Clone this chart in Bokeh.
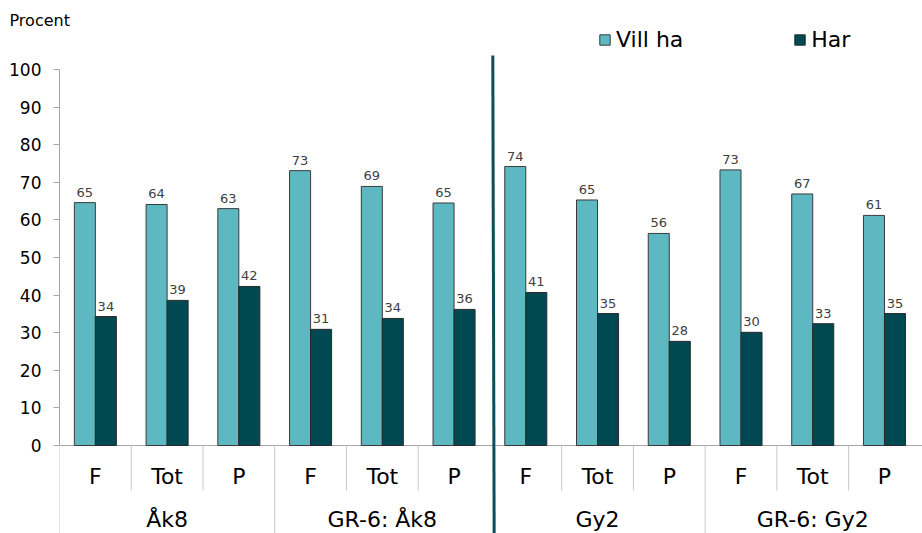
from bokeh.plotting import figure
from bokeh.models import Range1d, ColumnDataSource, Legend, LegendItem, FixedTicker
from bokeh.core.properties import value
from bokeh.embed import file_html
from bokeh.resources import INLINE

groups = ["Åk8", "GR-6: Åk8", "Gy2", "GR-6: Gy2"]
subcats = ["F", "Tot", "P"]
vill_ha = [64.6, 64.1, 63.0, 73.1, 68.9, 64.5, 74.2, 65.3, 56.4, 73.3, 66.9, 61.2]
har = [34.3, 38.6, 42.3, 30.9, 33.8, 36.2, 40.7, 35.1, 27.7, 30.1, 32.4, 35.1]
vill_ha_labels = ["65", "64", "63", "73", "69", "65", "74", "65", "56", "73", "67", "61"]
har_labels = ["34", "39", "42", "31", "34", "36", "41", "35", "28", "30", "33", "35"]
y_ticks = [0, 10, 20, 30, 40, 50, 60, 70, 80, 90, 100]

C_VILL = "#5DB8C1"
C_HAR = "#004852"
FONT = "DejaVu Sans"

n = len(vill_ha)
bar_w = 0.293
x_end = 12.03
centers = [i + 0.5 for i in range(n)]
src = ColumnDataSource(dict(
    xv=[c - bar_w / 2 for c in centers],
    xh=[c + bar_w / 2 for c in centers],
    vill=vill_ha, har=har, lv=vill_ha_labels, lh=har_labels,
))

p = figure(width=922, height=533, output_backend="svg", toolbar_location=None,
           x_range=Range1d(0, x_end), y_range=Range1d(-23.40, 111.97),
           min_border_left=59, min_border_right=0, min_border_top=24, min_border_bottom=0)
p.xaxis.visible = False
p.xgrid.visible = False
p.ygrid.visible = False
p.outline_line_color = None

p.title.text = "Procent"
p.title.align = "left"
p.title.offset = -50
p.title.standoff = -11
p.title.text_font = FONT
p.title.text_font_size = "16px"
p.title.text_font_style = "normal"
p.title.text_color = "#000000"

yax = p.yaxis[0]
yax.bounds = (0, 100)
yax.ticker = FixedTicker(ticks=y_ticks)
yax.minor_tick_line_color = None
yax.major_tick_in = 0
yax.major_tick_out = 6
yax.major_label_standoff = 12
yax.axis_line_color = "#A6A6A6"
yax.major_tick_line_color = "#A6A6A6"
yax.major_label_text_font = FONT
yax.major_label_text_font_size = "17px"
yax.major_label_text_color = "#000000"

# baseline
p.segment(x0=[0], y0=[0], x1=[x_end], y1=[0], line_color="#A6A6A6", line_width=1)

r1 = p.vbar(x="xv", top="vill", width=bar_w, bottom=0, source=src,
            fill_color=C_VILL, line_color="#3A3A3A", line_width=1)
r2 = p.vbar(x="xh", top="har", width=bar_w, bottom=0, source=src,
            fill_color=C_HAR, line_color="#2A2A2A", line_width=1)

p.text(x="xv", y="vill", text="lv", source=src, text_align="center", text_baseline="bottom",
       y_offset=-6, text_font=value(FONT), text_font_size="13px", text_color="#404040")
p.text(x="xh", y="har", text="lh", source=src, text_align="center", text_baseline="bottom",
       y_offset=-6, text_font=value(FONT), text_font_size="13px", text_color="#404040")

# category separators
inner_x = [i for i in range(n) if i % 3 != 0]
group_x = [i for i in range(n) if i % 3 == 0 and i != 6]
p.segment(x0=inner_x, y0=[0] * len(inner_x), x1=inner_x, y1=[-12.0] * len(inner_x),
          line_color="#C8C8C8", line_width=1)
p.segment(x0=group_x, y0=[0] * len(group_x), x1=group_x, y1=[-30] * len(group_x),
          line_color="#C8C8C8", line_width=1)

# category labels
sub_labels = [subcats[i % 3] for i in range(n)]
p.text(x=centers, y=[-8.3] * n, text=sub_labels, text_align="center", text_baseline="middle",
       text_font=value(FONT), text_font_size="22px", text_color="#000000")
gcenters = [3 * g + 1.5 for g in range(len(groups))]
p.text(x=gcenters, y=[-19.8] * len(groups), text=groups, text_align="center",
       text_baseline="middle", text_font=value(FONT), text_font_size="22px", text_color="#000000")

# divider line
divider_x = 6.04
p.segment(x0=[divider_x], y0=[103.7], x1=[divider_x + 0.02], y1=[-30],
          line_color="#0B4F58", line_width=3)

legend = Legend(items=[LegendItem(label="Vill ha", renderers=[r1]),
                       LegendItem(label="Har", renderers=[r2])],
                location=(539, 481), orientation="horizontal",
                glyph_width=13, glyph_height=13, label_standoff=5, spacing=110,
                padding=0, margin=0, border_line_color=None, background_fill_alpha=0,
                label_text_font=FONT, label_text_font_size="22px", label_text_color="#000000")
p.add_layout(legend)

open("out.html", "w").write(file_html(p, INLINE))
